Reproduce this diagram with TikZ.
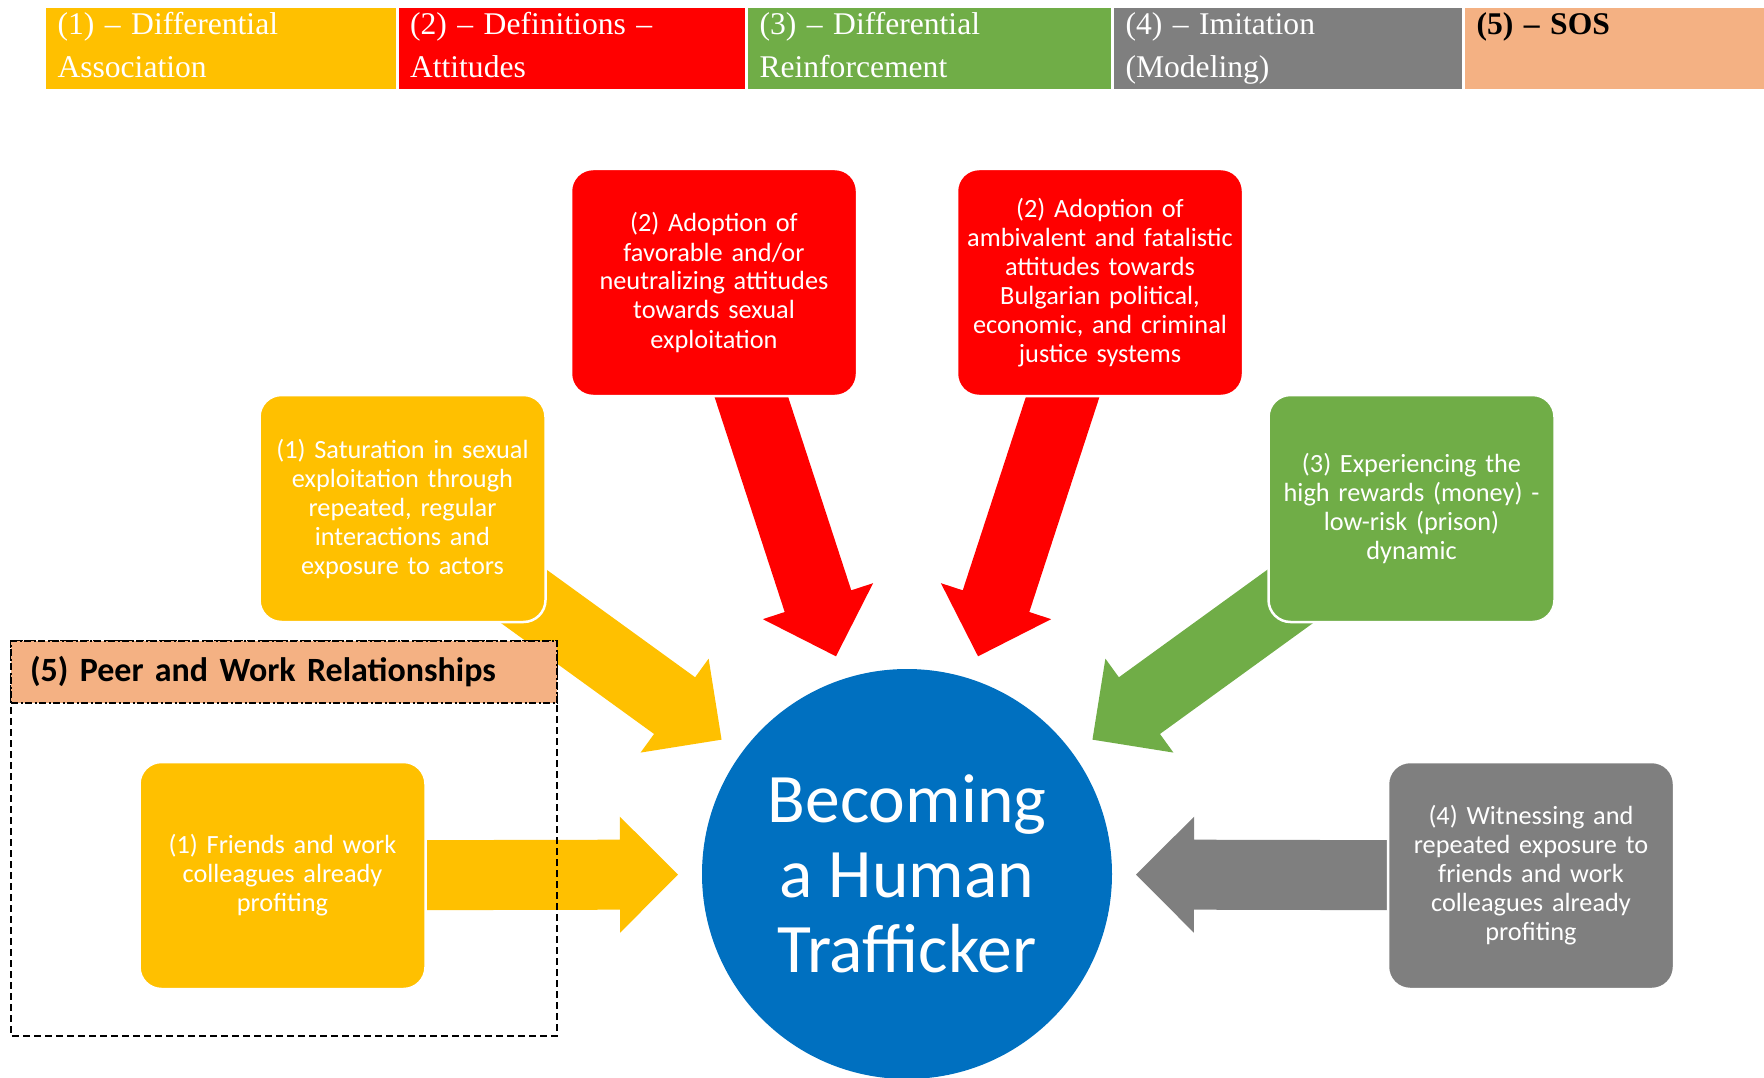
\documentclass[tikz,border=0pt]{standalone}
\usepackage{fontspec}
\setmainfont{Carlito}
\newfontfamily\romanfont[Ligatures=TeX]{Liberation Serif}
\usetikzlibrary{calc,backgrounds}

\definecolor{amber}{HTML}{FFC000}
\definecolor{scarlet}{HTML}{FF0000}
\definecolor{leaf}{HTML}{70AD47}
\definecolor{slate}{HTML}{7F7F7F}
\definecolor{peach}{HTML}{F4B183}
\definecolor{ocean}{HTML}{0070C0}

\tikzset{
  theory/.style={anchor=north west, outer sep=0pt, inner xsep=13pt, inner ysep=0pt,
    text height=28pt, text depth=56pt, text width=#1, align=left, draw=white, line width=3pt,
    text=white, font=\romanfont\fontsize{31.6}{43}\selectfont},
  factor/.style={rounded corners=22pt, minimum width=286pt, minimum height=227pt, inner sep=0pt,
    text width=280pt, align=center, text=white, draw=white, line width=2.5pt,
    font=\fontsize{26.3}{29}\selectfont},
}

% block arrow from a box towards the circle
\newcommand\fatarrow[3]{%
  \coordinate (tip) at ($(#3.center)!229pt!(#2.center)$);
  \coordinate (neck) at ($(tip)!58pt!(#2.center)$);
  \fill[#1] ($(#2.center)!35pt!90:(tip)$) -- ($(neck)!35pt!90:(tip)$) -- ($(neck)!58pt!90:(tip)$)
    -- (tip) -- ($(neck)!58pt!-90:(tip)$) -- ($(neck)!35pt!-90:(tip)$) -- ($(#2.center)!35pt!-90:(tip)$) -- cycle;
}

\begin{document}
\begin{tikzpicture}[x=1pt,y=-1pt]
    \useasboundingbox (0,0) rectangle (1764,1078);
    \clip (0,0) rectangle (1764,1078);

    % legend row
    \node[theory=326.5pt, fill=amber] (hdra) at (44.5,7) {(1) -- Differential\\Association};
    \node[theory=323.5pt, fill=scarlet] (hdrb) at (397,7) {(2) -- Definitions --\\Attitudes};
    \node[theory=340pt, fill=leaf] (hdrc) at (746.5,7) {(3) -- Differential\\Reinforcement};
    \node[theory=325pt, fill=slate] (hdrd) at (1112.5,7) {(4) -- Imitation\\(Modeling)};
    \node[theory=276.5pt, fill=peach, text=black] (hdre) at (1463.5,7) {\bfseries (5) -- SOS};

    % centre
    \node[circle, fill=ocean, minimum size=410pt, inner sep=0pt, text=white, align=center,
      font=\fontsize{69.5}{75}\selectfont] (circ) at (907,874) {Becoming\\a Human\\Trafficker};

    % peer group frame
    \draw[line width=2.2pt, dash pattern=on 7pt off 4pt] (11,641) rectangle (557,1036);
    \node[anchor=north west, outer sep=0pt, fill=peach, draw=black, line width=2pt,
      dash pattern=on 7pt off 2.5pt on 2pt off 2.5pt, minimum height=62pt, inner xsep=19pt,
      text width=508pt, align=left, font=\bfseries\fontsize{34}{40}\selectfont] (peers) at (11,641)
      {(5) Peer and Work Relationships};

    % factors
    \node[factor, fill=scarlet] (adopta) at (714,282.5) {(2) Adoption of\\favorable and/or\\neutralizing attitudes\\towards sexual\\exploitation};
    \node[factor, fill=scarlet] (adoptb) at (1100,282.5) {(2) Adoption of\\ambivalent and fatalistic\\attitudes towards\\Bulgarian political,\\economic, and criminal\\justice systems};
    \node[factor, fill=amber] (satur) at (402.5,508.5) {(1) Saturation in sexual\\exploitation through\\repeated, regular\\interactions and\\exposure to actors};
    \node[factor, fill=leaf] (reward) at (1411.5,508.5) {(3) Experiencing the\\high rewards (money) -\\low-risk (prison)\\dynamic};
    \node[factor, fill=amber] (friends) at (282.5,875.5) {(1) Friends and work\\colleagues already\\profiting};
    \node[factor, fill=slate] (witness) at (1531,875.5) {(4) Witnessing and\\repeated exposure to\\friends and work\\colleagues already\\profiting};

    \begin{scope}[on background layer]
    \fatarrow{scarlet}{adopta}{circ}
    \fatarrow{scarlet}{adoptb}{circ}
    \fatarrow{amber}{satur}{circ}
    \fatarrow{leaf}{reward}{circ}
    \fatarrow{amber}{friends}{circ}
    \fatarrow{slate}{witness}{circ}
    \end{scope}
\end{tikzpicture}
\end{document}
